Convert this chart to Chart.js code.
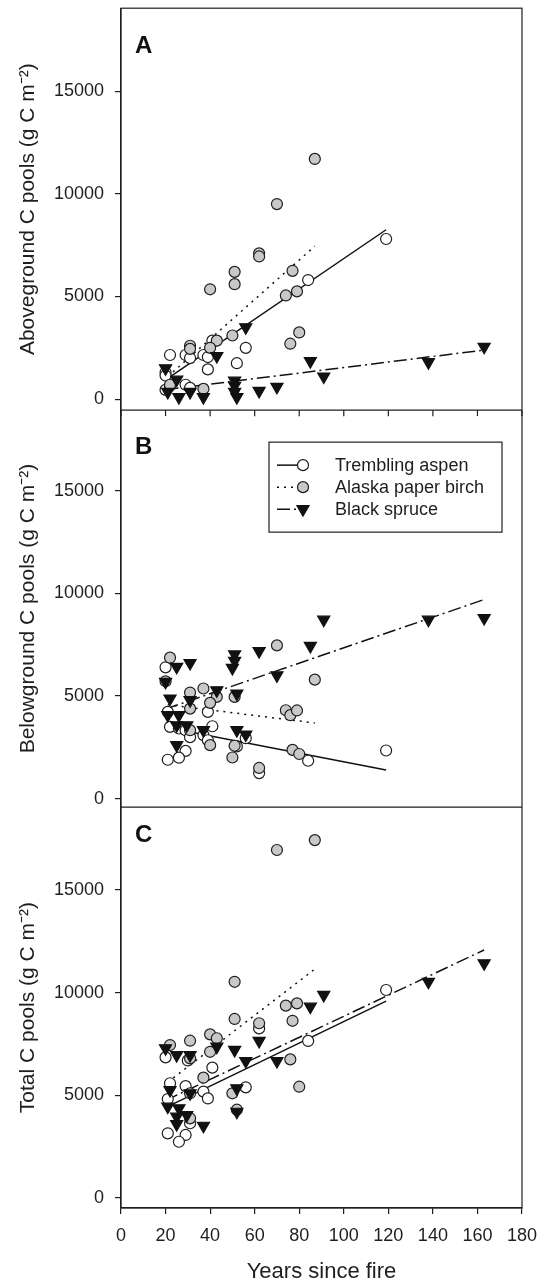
<!DOCTYPE html>
<html>
<head>
<meta charset="utf-8">
<script src="https://cdn.jsdelivr.net/npm/chart.js@4.4.1/dist/chart.umd.min.js"></script>
<style>
  html, body { margin: 0; padding: 0; background: #fff; }
</style>
</head>
<body>
<canvas id="chartPools" width="538" height="1283"></canvas>
<script>
// Tick labels
const xTicks = [0, 20, 40, 60, 80, 100, 120, 140, 160, 180];
const yTicks = [0, 5000, 10000, 15000];

// Panel A - aboveground C pools [years since fire, g C m-2]
const aspenA = [[119, 7800], [84, 5800], [56, 2500], [52, 1750], [39, 1450], [41, 2850], [22, 2150], [29, 2150],
  [31, 2000], [37, 2150], [39, 2050], [20, 1300], [20, 450], [22, 650], [29, 700], [31, 550], [20, 1150]];
const birchA = [[70, 9500], [62, 7100], [62, 6950], [51, 6200], [51, 5600], [40, 5350], [77, 6250], [74, 5050],
  [79, 5250], [80, 3250], [76, 2700], [50, 3100], [43, 2850], [40, 2500], [31, 2600], [31, 2450], [37, 500],
  [22, 700], [87, 11700]];
const spruceA = [[163, 2550], [138, 1800], [91, 1100], [85, 1850], [70, 600], [62, 400], [56, 3500], [43, 2100],
  [51, 900], [51, 650], [51, 350], [52, 100], [20, 1500], [25, 950], [21, 350], [26, 100], [31, 350], [37, 100]];
const aspenFitA = [[20, 940], [119, 8250]];
const birchFitA = [[21, 1100], [87, 7450]];
const spruceFitA = [[20, 460], [163, 2390]];

// Panel B - belowground C pools
const aspenB = [[20, 6400], [21, 4230], [22, 3500], [26, 3420], [29, 3340], [31, 3000], [37, 3100], [41, 3530],
  [39, 2850], [39, 4230], [29, 2330], [26, 2000], [21, 1900], [56, 2950], [52, 2550], [62, 1250], [84, 1850],
  [119, 2350]];
const birchB = [[70, 7470], [87, 5800], [22, 6870], [20, 5720], [31, 5170], [37, 5370], [43, 4960], [40, 4670],
  [51, 4960], [31, 4390], [74, 4310], [76, 4070], [79, 4300], [31, 3340], [40, 2610], [51, 2580], [50, 2010],
  [77, 2380], [80, 2180], [62, 1500]];
const spruceB = [[91, 8720], [138, 8720], [163, 8800], [85, 7440], [62, 7190], [70, 6010], [51, 7030], [51, 6710],
  [50, 6370], [25, 6420], [31, 6610], [20, 5690], [43, 5280], [52, 5120], [22, 4880], [31, 4800], [21, 4070],
  [26, 4070], [25, 3580], [29.5, 3580], [37, 3340], [52, 3340], [56, 3130], [25, 2610]];
const aspenFitB = [[20, 3480], [119, 1395]];
const birchFitB = [[21, 4580], [87, 3690]];
const spruceFitB = [[20, 4370], [163, 9700]];

// Panel C - total C pools
const aspenC = [[119, 10130], [84, 7650], [62, 8260], [41, 6350], [56, 5390], [20, 6850], [30, 6700], [22, 5590],
  [29, 5450], [37, 5180], [39, 4850], [21, 4820], [31, 5100], [31, 3640], [21, 3150], [29, 3070], [26, 2740]];
const birchC = [[70, 16950], [87, 17430], [51, 10530], [74, 9370], [79, 9480], [77, 8630], [51, 8720], [62, 8510],
  [40, 7970], [43, 7780], [31, 7660], [22, 7450], [40, 7120], [31, 6800], [76, 6750], [80, 5420], [37, 5860],
  [50, 5100], [31, 3880], [52, 4300]];
const spruceC = [[163, 11430], [138, 10530], [91, 9890], [85, 9320], [62, 7650], [70, 6670], [56, 6670], [51, 7210],
  [43, 7370], [20, 7290], [25, 6960], [31, 6960], [31, 5100], [22, 5260], [52, 5340], [52, 4200], [21, 4450],
  [26, 4370], [25, 3960], [29.5, 4040], [25, 3600], [37, 3520]];
const aspenFitC = [[20, 4400], [119, 9590]];
const birchFitC = [[21, 5640], [87, 11150]];
const spruceFitC = [[20, 4750], [163, 12080]];

const speciesLabels = ['Trembling aspen', 'Alaska paper birch', 'Black spruce'];

// Common styles
const FONT = 'Arial, "Liberation Sans", Helvetica, sans-serif';
const INK = '#1e1e1e';
const dashes = [[], [2, 5], [13, 4, 2, 4]];
const markers = [
  {pointStyle: 'circle', radius: 5.5, rotation: 0, fill: '#ffffff'},
  {pointStyle: 'circle', radius: 5.5, rotation: 0, fill: '#c8c8c8'},
  {pointStyle: 'triangle', radius: 7, rotation: 180, fill: '#111111'}
];

const panels = [
  {axis: 'yA', letter: 'A', min: -535, max: 19040, title: 'Aboveground C pools (g C m\u207B\u00B2)',
    points: [aspenA, birchA, spruceA], fits: [aspenFitA, birchFitA, spruceFitA], weight: 402, letterY: 45},
  {axis: 'yB', letter: 'B', min: -405, max: 18925, title: 'Belowground C pools (g C m\u207B\u00B2)',
    points: [aspenB, birchB, spruceB], fits: [aspenFitB, birchFitB, spruceFitB], weight: 397, letterY: 44},
  {axis: 'yC', letter: 'C', min: -487, max: 19040, title: 'Total C pools (g C m\u207B\u00B2)',
    points: [aspenC, birchC, spruceC], fits: [aspenFitC, birchFitC, spruceFitC], weight: 401, letterY: 35}
];

function toXY(arr) {
  return arr.map(p => ({x: p[0], y: p[1]}));
}

// Build datasets: markers above lines (lower order is drawn on top)
const datasets = [];
panels.forEach(p => {
  for (let i = 0; i < 3; i++) {
    const m = markers[i];
    datasets.push({
      label: speciesLabels[i],
      data: toXY(p.points[i]),
      yAxisID: p.axis,
      showLine: false,
      pointStyle: m.pointStyle,
      pointRadius: m.radius,
      pointRotation: m.rotation,
      pointBackgroundColor: m.fill,
      pointBorderColor: i === 2 ? '#111' : INK,
      pointBorderWidth: 1.2,
      order: 2 - i
    });
    datasets.push({
      label: speciesLabels[i] + ' fit',
      data: toXY(p.fits[i]),
      yAxisID: p.axis,
      showLine: true,
      pointRadius: 0,
      borderColor: '#111',
      borderWidth: 1.5,
      borderDash: dashes[i],
      fill: false,
      order: 3
    });
  }
});

// plain numbers, no thousands separator
const plain = v => String(v);

// y scales stacked on the left
const scales = {
  x: {
    type: 'linear',
    position: 'bottom',
    min: 0,
    max: 180,
    afterBuildTicks: s => { s.ticks = xTicks.map(v => ({value: v})); },
    afterFit: s => { s.height = 75; s.paddingLeft = 0; s.paddingRight = 0; },
    ticks: {color: INK, font: {family: FONT, size: 18}, padding: 11, maxRotation: 0, callback: plain},
    grid: {drawOnChartArea: false, tickLength: 6, color: INK, lineWidth: 1.2},
    border: {color: INK, width: 1.2},
    title: {display: true, text: 'Years since fire', color: INK, font: {family: FONT, size: 22, lineHeight: 1.0},
      padding: {top: 4, bottom: 0}}
  }
};
panels.forEach((p, i) => {
  scales[p.axis] = {
    type: 'linear',
    position: 'left',
    stack: 'panels',
    stackWeight: p.weight,
    weight: 3 - i,
    min: p.min,
    max: p.max,
    afterBuildTicks: s => { s.ticks = yTicks.map(v => ({value: v})); },
    afterFit: s => { s.width = 121; s.paddingTop = 0; s.paddingBottom = 0; },
    ticks: {color: INK, font: {family: FONT, size: 18}, padding: 11, callback: plain},
    grid: {drawOnChartArea: false, tickLength: 6, color: INK, lineWidth: 1.2},
    border: {color: INK, width: 1.2},
    title: {display: true, text: p.title, color: INK, font: {family: FONT, size: 21},
      padding: {top: 16, bottom: 0}}
  };
});

// Frame, panel letters and legend
const framePlugin = {
  id: 'frame',
  afterDraw(chart) {
    const ctx = chart.ctx;
    const a = chart.chartArea;
    const x = chart.scales.x;
    ctx.save();
    ctx.strokeStyle = INK;
    ctx.lineWidth = 1.2;
    ctx.strokeRect(a.left, a.top, a.right - a.left, a.bottom - a.top);
    ['yA', 'yB'].forEach(id => {
      const s = chart.scales[id];
      ctx.beginPath();
      ctx.moveTo(a.left, s.bottom);
      ctx.lineTo(a.right, s.bottom);
      ctx.stroke();
    });
    // x ticks under panel A
    const yA = chart.scales.yA;
    xTicks.forEach(v => {
      const px = x.getPixelForValue(v);
      ctx.beginPath();
      ctx.moveTo(px, yA.bottom);
      ctx.lineTo(px, yA.bottom + 6);
      ctx.stroke();
    });

    // panel letters
    ctx.fillStyle = '#111';
    ctx.font = 'bold 24px ' + FONT;
    ctx.textBaseline = 'alphabetic';
    ctx.textAlign = 'left';
    panels.forEach(p => {
      const s = chart.scales[p.axis];
      ctx.fillText(p.letter, a.left + 14, s.top + p.letterY);
    });

    // legend box in panel B
    const yB = chart.scales.yB;
    const lx = a.left + 148, ly = yB.top + 32, lw = a.right - 20 - lx, lh = 90;
    ctx.fillStyle = '#fff';
    ctx.fillRect(lx, ly, lw, lh);
    ctx.strokeStyle = INK;
    ctx.lineWidth = 1.2;
    ctx.strokeRect(lx, ly, lw, lh);
    const rows = [23, 45, 67];
    ctx.font = '18px ' + FONT;
    ctx.textBaseline = 'middle';
    for (let i = 0; i < 3; i++) {
      const ry = ly + rows[i];
      ctx.strokeStyle = '#111';
      ctx.lineWidth = 1.5;
      ctx.setLineDash(dashes[i]);
      ctx.beginPath();
      ctx.moveTo(lx + 8, ry);
      ctx.lineTo(lx + 34, ry);
      ctx.stroke();
      ctx.setLineDash([]);
      const m = markers[i];
      ctx.fillStyle = m.fill;
      ctx.strokeStyle = i === 2 ? '#111' : INK;
      ctx.lineWidth = 1.2;
      Chart.helpers.drawPoint(ctx, {pointStyle: m.pointStyle, radius: m.radius, rotation: m.rotation, borderWidth: 1.2},
        lx + 34, ry);
      ctx.fillStyle = INK;
      ctx.fillText(speciesLabels[i], lx + 66, ry + 1);
    }
    ctx.restore();
  }
};

new Chart(document.getElementById('chartPools'), {
  type: 'scatter',
  data: {datasets: datasets},
  options: {
    responsive: false,
    animation: false,
    events: [],
    layout: {padding: {top: 8, right: 16, bottom: 0, left: 0}},
    plugins: {legend: {display: false}, tooltip: {enabled: false}},
    scales: scales
  },
  plugins: [framePlugin]
});
</script>
</body>
</html>
